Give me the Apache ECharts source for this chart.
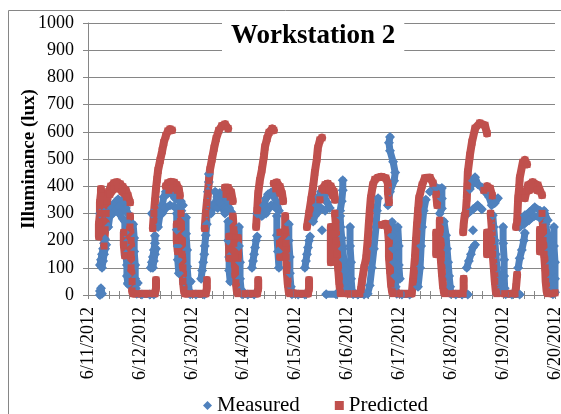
<!DOCTYPE html>
<html>
<head>
<meta charset="utf-8">
<script src="https://cdn.jsdelivr.net/npm/echarts@6/dist/echarts.min.js"></script>
<style>
  html, body { margin: 0; padding: 0; background: #fff; }
  #chart { width: 561px; height: 414px; }
</style>
</head>
<body>
<div id="chart"></div>
<script>
// x values are days after 6/11/2012 00:00, y values are lux
var dateLabels = ['6/11/2012', '6/12/2012', '6/13/2012', '6/14/2012', '6/15/2012',
  '6/16/2012', '6/17/2012', '6/18/2012', '6/19/2012', '6/20/2012']

// each inner list is one run of points
var measured = [
  [[0.23,0],[0.23,15],[0.25,25],[0.27,5]],
  [[0.23,110],[0.25,130],[0.27,150],[0.29,170],[0.31,190],[0.33,205]],
  [[0.27,100],[0.29,125],[0.31,150],[0.33,170],[0.35,185]],
  [[0.23,300],[0.31,302],[0.37,300]],
  [[0.39,250],[0.42,290],[0.46,320],[0.52,340],[0.58,352],[0.64,345],[0.69,335],[0.73,320],[0.77,300]],
  [[0.48,300],[0.54,315],[0.60,325],[0.66,310]],
  [[0.60,300],[0.67,280],[0.75,270]],
  [[0.71,270],[0.71,230],[0.73,190],[0.73,150],[0.75,110],[0.75,70],[0.77,40]],
  [[0.87,260],[0.89,210],[0.89,160],[0.91,110],[0.91,60],[0.92,25],[0.94,5],[1.04,2],[1.19,2],[1.27,2]],
  [[0.77,44],[0.96,44]],
  [[1.21,100],[1.23,120],[1.25,140],[1.27,165],[1.29,190],[1.29,218]],
  [[1.25,100],[1.27,125],[1.29,150],[1.31,170]],
  [[1.23,300],[1.35,300]],
  [[1.35,250],[1.39,300],[1.43,330],[1.46,360],[1.50,380],[1.54,395],[1.58,390],[1.62,370],[1.68,355],[1.73,350],[1.79,345],[1.83,330]],
  [[1.43,300],[1.50,320],[1.58,330],[1.66,325],[1.73,320],[1.80,310]],
  [[1.52,370],[1.58,400],[1.64,385]],
  [[1.71,300],[1.71,240],[1.73,180],[1.73,130],[1.75,80]],
  [[1.89,285],[1.89,225],[1.91,165],[1.91,105],[1.93,55],[1.95,15],[1.97,3],[2.08,2],[2.24,2]],
  [[1.85,50],[1.98,50]],
  [[2.18,60],[2.20,90],[2.22,120],[2.24,150],[2.25,180],[2.27,220],[2.29,260],[2.29,300],[2.31,340],[2.31,380],[2.33,415],[2.33,445]],
  [[2.37,300],[2.43,330],[2.49,360],[2.54,375],[2.60,365],[2.66,345],[2.72,320],[2.76,305]],
  [[2.50,320],[2.58,330],[2.66,315]],
  [[2.45,380],[2.54,340],[2.64,300]],
  [[2.70,270],[2.70,200],[2.72,140],[2.72,90],[2.74,50]],
  [[2.91,250],[2.91,180],[2.93,120],[2.93,60],[2.95,20],[2.97,3],[3.08,2],[3.20,2]],
  [[3.16,100],[3.18,125],[3.20,150],[3.22,175],[3.24,200],[3.26,215]],
  [[3.26,300],[3.43,300]],
  [[3.35,290],[3.39,330],[3.43,355],[3.47,370],[3.53,378],[3.58,362],[3.64,340],[3.68,310]],
  [[3.45,310],[3.53,330],[3.62,320]],
  [[3.64,290],[3.64,220],[3.66,160],[3.68,100]],
  [[3.87,260],[3.87,200],[3.89,140],[3.89,80],[3.91,30],[3.93,3],[4.05,2],[4.18,2]],
  [[4.18,100],[4.20,125],[4.22,150],[4.24,175],[4.26,200],[4.28,215]],
  [[4.34,270],[4.37,290],[4.41,330],[4.45,360],[4.49,380],[4.55,365],[4.61,340],[4.66,320]],
  [[4.41,300],[4.49,320],[4.57,310]],
  [[4.51,238]],
  [[4.86,310],[4.89,345],[4.91,385],[4.91,422]],
  [[4.59,3],[4.78,3]],
  [[4.86,290],[4.87,250],[4.89,210],[4.91,170],[4.93,130],[4.95,90],[4.97,50],[4.99,20]],
  [[5.05,250],[5.05,180],[5.07,120],[5.07,60],[5.09,15],[5.11,3],[5.20,2],[5.32,2]],
  [[5.39,5],[5.43,35],[5.47,100],[5.51,170],[5.55,250],[5.57,310],[5.59,356]],
  [[5.78,330],[5.82,380],[5.90,420],[5.92,450],[5.88,490],[5.82,530],[5.80,560],[5.82,581]],
  [[5.86,268],[5.86,220],[5.88,170],[5.90,120],[5.92,70],[5.93,30],[5.95,5],[6.05,2],[6.20,2]],
  [[5.97,250],[5.99,180],[5.99,110],[6.01,60]],
  [[6.36,30],[6.40,100],[6.42,180],[6.44,250],[6.47,310],[6.51,350]],
  [[6.59,380],[6.71,395],[6.82,393],[6.82,355],[6.82,318],[6.78,300]],
  [[6.86,270],[6.90,220],[6.92,170],[6.94,120],[6.96,70],[6.98,30],[6.99,5],[7.09,2],[7.21,2],[7.32,2]],
  [[7.30,100],[7.34,125],[7.38,150],[7.42,175],[7.46,185]],
  [[7.42,238]],
  [[7.32,300],[7.42,315],[7.51,330],[7.59,315]],
  [[7.36,390],[7.42,420],[7.46,433],[7.51,407],[7.59,395],[7.65,380],[7.73,360],[7.78,330],[7.84,338],[7.90,356]],
  [[7.80,293],[7.82,250],[7.84,200],[7.86,150],[7.88,100],[7.90,50],[7.92,15]],
  [[8.00,250],[8.00,190],[8.02,130],[8.02,70],[8.03,25],[8.05,3],[8.17,2],[8.32,2]],
  [[8.29,100],[8.32,135],[8.36,165],[8.40,200],[8.42,228]],
  [[8.32,250],[8.42,293],[8.51,305],[8.61,323],[8.71,310],[8.80,300],[8.86,275]],
  [[8.40,260],[8.50,275],[8.60,290],[8.70,285]],
  [[8.79,310],[8.82,260],[8.86,210],[8.88,160],[8.90,110],[8.92,60],[8.94,20],[8.96,3]],
  [[8.98,250],[8.98,180],[9.0,120],[9.0,60],[9.0,10]]
]

var predicted = [
  [[0.21,215],[0.21,260],[0.23,300],[0.23,340],[0.25,375],[0.25,390]],
  [[0.31,180],[0.33,240],[0.35,300],[0.37,345],[0.40,380],[0.44,400],[0.50,412],[0.56,415],[0.62,408],[0.67,398],[0.73,385],[0.77,365],[0.81,340]],
  [[0.42,370],[0.50,390],[0.58,395],[0.66,380],[0.74,360]],
  [[0.69,230],[0.69,185],[0.71,145]],
  [[0.81,290],[0.81,250],[0.83,200],[0.83,150],[0.83,100],[0.85,50],[0.85,15],[0.87,5],[0.96,5],[1.08,5],[1.19,5],[1.29,5],[1.31,25],[1.31,55]],
  [[1.25,245],[1.27,300],[1.29,345],[1.31,390],[1.33,425],[1.35,458],[1.39,495],[1.43,530],[1.46,560],[1.50,585],[1.54,603],[1.58,610],[1.62,606]],
  [[1.50,400],[1.54,412],[1.60,416],[1.66,414],[1.71,405],[1.75,390],[1.77,365]],
  [[1.56,385],[1.64,392],[1.72,385]],
  [[1.71,260],[1.71,200],[1.73,160]],
  [[1.79,300],[1.79,250],[1.81,200],[1.81,150],[1.83,100],[1.83,50],[1.85,15],[1.87,5],[1.97,5],[2.08,5],[2.20,5],[2.27,5],[2.29,25],[2.29,55]],
  [[2.25,245],[2.27,300],[2.29,340],[2.31,375],[2.33,420],[2.35,460],[2.39,500],[2.43,540],[2.47,575],[2.52,605],[2.58,622],[2.64,628],[2.70,612]],
  [[2.64,395],[2.70,395],[2.76,378],[2.79,345]],
  [[2.66,370],[2.74,360]],
  [[2.72,215],[2.72,135]],
  [[2.89,210],[2.89,135]],
  [[2.79,290],[2.81,240],[2.81,190],[2.83,140],[2.83,90],[2.85,45],[2.87,12],[2.89,5],[3.03,5],[3.16,5],[3.26,5],[3.28,25],[3.28,55]],
  [[3.24,250],[3.26,310],[3.28,373],[3.31,420],[3.35,460],[3.39,510],[3.41,544],[3.45,575],[3.49,598],[3.55,612],[3.58,606]],
  [[3.58,410],[3.64,414],[3.70,398],[3.74,372],[3.76,345]],
  [[3.62,390],[3.70,375]],
  [[3.70,230],[3.70,140]],
  [[3.80,290],[3.80,240],[3.82,190],[3.82,140],[3.83,90],[3.85,40],[3.87,10],[3.89,5],[4.03,5],[4.14,5],[4.24,5],[4.26,25],[4.26,55]],
  [[4.22,250],[4.26,300],[4.30,350],[4.34,400],[4.37,450],[4.41,500],[4.43,540],[4.47,570],[4.51,578]],
  [[4.47,350],[4.51,390],[4.57,405],[4.62,410],[4.68,400],[4.74,380],[4.76,350]],
  [[4.55,385],[4.64,385],[4.72,365]],
  [[4.68,250],[4.68,120]],
  [[4.76,300],[4.78,250],[4.78,200],[4.80,150],[4.82,100],[4.84,50],[4.86,10],[4.87,5],[5.01,5],[5.15,5],[5.24,5],[5.26,20],[5.28,50],[5.32,100],[5.36,136],[5.39,200],[5.41,257],[5.43,310],[5.45,356],[5.49,405],[5.53,425],[5.59,432],[5.66,435],[5.74,430],[5.78,410],[5.78,380],[5.80,340]],
  [[5.66,258],[5.74,262],[5.78,240],[5.80,190],[5.80,140],[5.82,90],[5.84,40],[5.86,12],[5.88,5],[6.01,5],[6.17,5],[6.24,5],[6.26,48],[6.28,90],[6.30,136],[6.32,200],[6.34,257],[6.36,310],[6.38,356],[6.44,404],[6.49,430],[6.59,432],[6.65,411],[6.71,370],[6.73,330]],
  [[6.78,275],[6.78,230],[6.80,180],[6.80,130],[6.82,80],[6.84,35],[6.86,10],[6.88,5],[7.01,5],[7.13,5],[7.23,5],[7.24,25],[7.24,60]],
  [[6.71,230],[6.71,150]],
  [[7.23,231],[7.24,260],[7.26,293]],
  [[7.28,300],[7.30,356],[7.31,400],[7.32,452],[7.36,514],[7.40,562],[7.46,613],[7.55,632],[7.65,624],[7.69,594]],
  [[7.63,385],[7.69,400],[7.75,392],[7.79,365]],
  [[7.69,230],[7.69,150]],
  [[7.76,300],[7.78,250],[7.78,200],[7.80,150],[7.82,100],[7.84,50],[7.86,12],[7.88,5],[8.03,5],[8.17,5],[8.23,5],[8.25,30],[8.27,75]],
  [[8.25,250],[8.27,268],[8.29,356],[8.31,395],[8.32,430],[8.38,488],[8.42,496],[8.46,480]],
  [[8.42,356],[8.48,404],[8.57,415],[8.67,404],[8.75,367]],
  [[8.50,385],[8.58,395],[8.66,385]],
  [[8.75,300],[8.77,250],[8.77,200],[8.79,150],[8.81,100],[8.82,50],[8.84,12],[8.86,5],[8.94,5],[9.0,8]],
  [[8.71,240],[8.71,160]]
]

// join the runs, with an empty point between them so the line breaks
function joinRuns(runs) {
  var out = []
  runs.forEach(function (run, i) {
    if (i > 0) out.push(['-', '-'])
    run.forEach(function (p) { out.push(p) })
  })
  return out
}

var grey = '#868686'
var serif = '"Liberation Serif", "Times New Roman", serif'

var myChart = echarts.init(document.getElementById('chart'))

myChart.setOption({
  animation: false,
  backgroundColor: '#fff',
  textStyle: { fontFamily: serif },
  graphic: [
    {
      type: 'rect',
      shape: { x: 8.5, y: 10.5, width: 600, height: 500 },
      style: { fill: 'none', stroke: grey, lineWidth: 1 },
      silent: true
    }
  ],
  title: {
    text: 'Workstation 2',
    left: 222,
    top: 16,
    padding: [7, 9],
    backgroundColor: '#fff',
    textStyle: { fontFamily: serif, fontSize: 27, fontWeight: 'bold', color: '#000' }
  },
  legend: {
    left: 198,
    top: 390,
    itemWidth: 9,
    itemHeight: 9,
    itemGap: 35,
    textStyle: { fontFamily: serif, fontSize: 21, color: '#000' },
    data: [
      { name: 'Measured', icon: 'diamond' },
      { name: 'Predicted', icon: 'rect' }
    ]
  },
  grid: { left: 88, right: 6, top: 23, bottom: 119, outerBoundsMode: 'none' },
  xAxis: [
    {
      type: 'value',
      min: 0,
      max: 9,
      interval: 1,
      axisLine: { show: true, lineStyle: { color: grey } },
      axisTick: { show: true, length: 4, lineStyle: { color: grey } },
      minorTick: { show: true, splitNumber: 5, length: 4, lineStyle: { color: grey } },
      splitLine: { show: false },
      axisLabel: {
        rotate: 90,
        margin: 12,
        fontFamily: serif,
        fontSize: 18,
        color: '#000',
        formatter: function (v) { return dateLabels[Math.round(v)] }
      }
    },
    {
      type: 'value',
      min: 0,
      max: 9,
      interval: 1,
      position: 'bottom',
      axisLine: { show: false },
      axisTick: { show: true, inside: true, length: 4, lineStyle: { color: grey } },
      minorTick: { show: true, splitNumber: 5, length: 4, lineStyle: { color: grey } },
      splitLine: { show: false },
      axisLabel: { show: false }
    }
  ],
  yAxis: {
    type: 'value',
    min: 0,
    max: 1000,
    interval: 100,
    name: 'Illuminance (lux)',
    nameLocation: 'middle',
    nameGap: 49,
    nameMoveOverlap: false,
    nameTextStyle: { fontFamily: serif, fontSize: 19, fontWeight: 'bold', color: '#000' },
    axisLine: { show: true, lineStyle: { color: grey } },
    axisTick: { show: true, length: 5, lineStyle: { color: grey } },
    splitLine: { show: true, lineStyle: { color: grey, width: 1 } },
    axisLabel: {
      margin: 14,
      fontFamily: serif,
      fontSize: 18,
      color: '#000',
      formatter: function (v) { return String(v) }
    }
  },
  series: [
    {
      name: 'Measured',
      type: 'line',
      data: joinRuns(measured),
      connectNulls: false,
      symbol: 'diamond',
      symbolSize: 10,
      showSymbol: true,
      showAllSymbol: true,
      silent: true,
      itemStyle: { color: '#4F81BD' },
      lineStyle: { color: '#4F81BD', width: 7, join: 'round', cap: 'round' }
    },
    {
      name: 'Predicted',
      type: 'line',
      data: joinRuns(predicted),
      connectNulls: false,
      symbol: 'rect',
      symbolSize: 7,
      showSymbol: true,
      showAllSymbol: true,
      silent: true,
      itemStyle: { color: '#C0504D' },
      lineStyle: { color: '#C0504D', width: 8, join: 'round', cap: 'round' }
    }
  ]
})
</script>
</body>
</html>
